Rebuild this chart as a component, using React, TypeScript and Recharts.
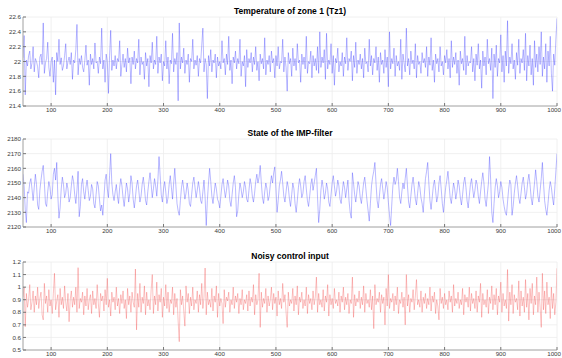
import { LineChart, Line, XAxis, YAxis, CartesianGrid } from 'recharts';

// samples start at x=50, one every 2 steps
const START = 50;
const STEP = 2;

const X_TICKS = [100, 200, 300, 400, 500, 600, 700, 800, 900, 1000];

const TZ1_TICKS = [21.4, 21.6, 21.8, 22, 22.2, 22.4, 22.6];
const IMP_TICKS = [2120, 2130, 2140, 2150, 2160, 2170, 2180];
const U_TICKS = [0.5, 0.6, 0.7, 0.8, 0.9, 1, 1.1, 1.2];

const TZ1 = [
  22.05, 22.35, 21.55, 22.02, 21.94, 22.08, 22.14, 21.9, 21.98, 22.2, 21.86, 22.04, 22.0, 21.93, 21.78, 22.06, 22.1, 21.96, 22.52, 21.84,
  21.98, 22.04, 22.26, 21.92, 21.8, 22.0, 22.06, 21.72, 22.02, 21.55, 22.12, 22.0, 22.3, 21.96, 22.05, 21.88, 21.94, 22.08, 22.24, 21.9,
  22.0, 22.06, 21.96, 22.12, 21.76, 22.02, 21.98, 22.16, 22.5, 21.82, 22.04, 21.96, 22.08, 21.92, 21.86, 22.02, 22.22, 21.95, 22.02, 21.68,
  22.1, 21.96, 22.04, 21.9, 22.25, 21.98, 22.0, 21.84, 22.06, 21.97, 22.45, 21.9, 22.02, 21.72, 22.1, 22.0, 21.57, 22.08, 22.42, 21.88,
  22.02, 21.94, 22.08, 21.9, 22.04, 22.0, 22.28, 21.8, 21.96, 22.1, 21.92, 22.04, 21.86, 22.18, 21.98, 22.05, 21.7, 22.06, 21.96, 22.14,
  21.9, 22.04, 21.98, 22.3, 21.82, 22.06, 21.96, 22.0, 21.76, 22.12, 21.94, 22.04, 21.66, 22.08, 21.98, 22.26, 21.9, 22.02, 21.96, 22.34,
  21.84, 22.06, 21.98, 22.1, 21.74, 22.0, 21.94, 22.28, 21.9, 22.06, 21.7, 22.02, 21.97, 22.38, 21.86, 22.04, 21.96, 22.12, 21.47, 22.52,
  21.9, 22.06, 21.98, 22.18, 21.84, 22.02, 21.96, 22.1, 21.72, 22.04, 22.0, 22.3, 21.9, 22.02, 21.95, 22.08, 21.8, 22.04, 21.98, 22.22,
  22.45, 21.86, 22.04, 21.96, 21.5, 22.08, 21.94, 22.16, 21.86, 22.02, 21.98, 22.1, 21.78, 22.06, 21.94, 22.0, 21.9, 22.28, 21.98, 22.04,
  21.82, 22.1, 21.96, 22.34, 21.88, 22.02, 21.7, 22.06, 21.98, 22.14, 21.9, 22.04, 21.97, 22.3, 21.8, 22.0, 21.94, 22.08, 21.66, 22.16,
  21.92, 22.04, 21.98, 22.12, 21.86, 22.06, 21.96, 22.2, 21.88, 22.0, 21.74, 22.1, 21.97, 22.04, 21.9, 22.32, 21.82, 22.02, 21.96, 22.08,
  21.86, 22.14, 21.98, 22.04, 21.78, 22.08, 21.94, 22.2, 21.9, 22.0, 21.98, 22.3, 21.86, 22.06, 21.92, 21.6, 22.12, 21.97, 22.04, 21.8,
  22.18, 21.94, 22.04, 21.88, 22.24, 21.98, 22.02, 21.72, 22.1, 21.96, 22.06, 21.9, 22.34, 21.84, 22.0, 21.97, 22.14, 21.78, 22.08, 21.94,
  22.04, 21.88, 22.2, 21.84, 22.4, 21.92, 22.06, 21.98, 22.16, 21.76, 22.38, 21.9, 22.02, 21.96, 22.24, 21.84, 22.08, 21.68, 22.04, 21.98,
  22.18, 21.86, 22.0, 21.94, 22.12, 21.8, 22.06, 21.97, 22.32, 21.88, 22.04, 22.0, 22.14, 21.74, 22.08, 21.92, 22.26, 21.84, 22.02, 21.96,
  22.1, 21.9, 22.04, 21.78, 22.18, 21.97, 22.0, 21.86, 22.3, 21.94, 22.08, 21.82, 22.04, 21.98, 22.2, 21.88, 22.06, 21.72, 22.12, 21.96,
  22.02, 21.84, 22.16, 21.92, 22.06, 21.66, 22.4, 21.9, 22.04, 21.97, 22.18, 21.8, 22.08, 21.94, 22.0, 21.88, 22.3, 21.76, 22.1, 21.98,
  21.86, 22.45, 21.94, 22.04, 21.82, 22.14, 21.97, 22.02, 21.9, 22.24, 21.78, 22.08, 21.96, 22.0, 21.84, 22.12, 21.98, 22.04, 21.92, 22.2,
  21.8, 22.06, 21.95, 22.32, 21.88, 22.02, 21.72, 22.1, 21.97, 22.04, 21.86, 22.2, 21.94, 22.0, 21.82, 22.08, 21.98, 22.16, 21.9, 22.04,
  21.78, 22.28, 21.92, 22.06, 21.96, 22.12, 21.84, 22.02, 21.68, 22.14, 21.97, 22.04, 21.88, 22.34, 21.82, 22.08, 21.94, 22.0, 21.98, 22.2,
  21.86, 22.04, 21.74, 22.1, 21.95, 22.24, 21.9, 22.02, 21.64, 22.14, 21.94, 22.06, 21.82, 22.3, 21.97, 22.04, 21.88, 22.18, 21.5, 22.1,
  21.92, 22.22, 21.8, 22.04, 21.98, 22.36, 21.86, 22.08, 21.72, 22.14, 21.94, 22.55, 21.84, 22.06, 21.97, 22.24, 21.9, 22.02, 21.76, 22.12,
  21.95, 22.3, 21.84, 22.04, 21.98, 22.16, 21.88, 22.38, 21.74, 22.08, 21.94, 22.22, 21.82, 22.04, 21.68, 22.28, 21.92, 22.1, 21.86, 22.2,
  21.96, 22.4, 21.8, 22.06, 21.9, 22.24, 21.72, 22.14, 21.94, 22.34, 21.84, 21.6, 22.1, 21.95, 22.3, 22.58,
];

const IMP = [
  2156, 2148, 2132, 2123, 2144, 2143, 2150, 2153, 2146, 2138, 2147, 2156, 2149, 2135, 2132, 2145, 2152, 2158, 2162, 2150,
  2136, 2134, 2144, 2151, 2147, 2139, 2142, 2156, 2160, 2152, 2164, 2141, 2126, 2133, 2146, 2154, 2149, 2140, 2143, 2150,
  2146, 2137, 2140, 2148, 2155, 2151, 2142, 2136, 2145, 2158, 2127, 2134, 2149, 2153, 2144, 2139, 2147, 2152, 2145, 2138,
  2141, 2149, 2146, 2136, 2133, 2142, 2151, 2148, 2139, 2131, 2135, 2128, 2140, 2152, 2156, 2146, 2140, 2155, 2170, 2150,
  2142, 2138, 2144, 2149, 2141, 2136, 2147, 2153, 2148, 2140, 2134, 2142, 2150, 2146, 2137, 2143, 2155, 2150, 2139, 2133,
  2140, 2148, 2152, 2145, 2137, 2141, 2149, 2154, 2147, 2138, 2135, 2144, 2151, 2157, 2149, 2140, 2146, 2153, 2148, 2141,
  2152, 2168, 2155, 2142, 2137, 2146, 2151, 2144, 2136, 2140, 2149, 2155, 2147, 2139, 2150, 2160, 2148, 2136, 2131, 2128,
  2138, 2147, 2152, 2146, 2139, 2143, 2150, 2145, 2136, 2134, 2142, 2150, 2154, 2147, 2140, 2145, 2151, 2146, 2138, 2136,
  2144, 2152, 2140, 2121, 2138, 2150, 2160, 2151, 2141, 2136, 2143, 2150, 2146, 2139, 2137, 2133, 2141, 2149, 2153, 2146,
  2140, 2145, 2152, 2148, 2138, 2134, 2142, 2150, 2155, 2147, 2127, 2131, 2142, 2150, 2146, 2140, 2144, 2151, 2147, 2139,
  2137, 2145, 2153, 2149, 2141, 2137, 2143, 2151, 2156, 2150, 2154, 2162, 2150, 2140, 2136, 2144, 2150, 2146, 2138, 2141,
  2149, 2155, 2150, 2157, 2161, 2146, 2130, 2138, 2148, 2152, 2158, 2150, 2141, 2137, 2144, 2151, 2147, 2139, 2134, 2142,
  2150, 2146, 2136, 2130, 2138, 2147, 2153, 2148, 2140, 2143, 2151, 2155, 2146, 2138, 2134, 2141, 2149, 2153, 2145, 2150,
  2155, 2160, 2140, 2123, 2132, 2145, 2152, 2147, 2139, 2143, 2150, 2146, 2137, 2134, 2142, 2150, 2155, 2148, 2141, 2145,
  2152, 2148, 2139, 2136, 2144, 2151, 2147, 2140, 2146, 2152, 2138, 2130, 2126, 2157, 2150, 2142, 2137, 2144, 2151, 2148,
  2140, 2136, 2143, 2150, 2154, 2146, 2138, 2131, 2124, 2136, 2148, 2154, 2158, 2164, 2150, 2138, 2133, 2141, 2149, 2153,
  2146, 2139, 2144, 2151, 2147, 2137, 2128, 2121, 2135, 2148, 2154, 2149, 2152, 2160, 2151, 2140, 2136, 2144, 2150, 2146,
  2153, 2160, 2148, 2137, 2133, 2141, 2149, 2154, 2147, 2139, 2135, 2143, 2151, 2147, 2140, 2136, 2130, 2142, 2153, 2158,
  2164, 2150, 2138, 2132, 2140, 2148, 2152, 2145, 2137, 2141, 2150, 2155, 2146, 2136, 2130, 2139, 2147, 2152, 2158, 2149,
  2140, 2136, 2143, 2150, 2146, 2139, 2144, 2152, 2148, 2140, 2135, 2142, 2150, 2154, 2147, 2138, 2133, 2141, 2149, 2153,
  2146, 2140, 2145, 2152, 2149, 2141, 2136, 2144, 2151, 2157, 2150, 2139, 2134, 2142, 2150, 2168, 2152, 2130, 2123, 2136,
  2147, 2153, 2148, 2140, 2144, 2151, 2147, 2139, 2134, 2130, 2128, 2137, 2146, 2152, 2149, 2128, 2134, 2143, 2150, 2155,
  2148, 2140, 2136, 2143, 2150, 2154, 2147, 2139, 2143, 2151, 2156, 2149, 2140, 2135, 2142, 2150, 2159, 2151, 2141, 2137,
  2145, 2153, 2164, 2150, 2138, 2132, 2128, 2136, 2145, 2151, 2147, 2140, 2135, 2146, 2158, 2170,
];

const U = [
  0.92, 1.0, 0.685, 0.95, 0.84, 0.9, 1.02, 0.82, 0.88, 0.97, 0.8, 0.93, 0.86, 1.0, 0.83, 0.91, 0.96, 0.78, 0.74, 1.03,
  0.87, 0.93, 0.8, 0.98, 0.85, 0.9, 0.79, 0.95, 1.11, 0.82, 0.89, 0.94, 0.76, 0.99, 0.86, 0.92, 0.83, 1.01, 0.88, 0.81,
  0.95, 0.725, 0.9, 0.97, 0.84, 0.92, 0.86, 1.0, 0.8, 1.155, 0.83, 0.91, 0.88, 0.96, 0.78, 0.93, 0.85, 0.99, 0.82, 0.9,
  0.94, 0.79, 0.97, 0.86, 0.91, 0.83, 1.02, 0.87, 0.76, 0.95, 0.89, 0.93, 0.81, 0.98, 0.86, 1.07, 0.84, 0.9, 0.77, 0.96,
  0.88, 0.92, 0.82, 1.0, 0.85, 0.91, 0.79, 0.94, 0.87, 0.97, 0.83, 0.9, 0.75, 0.99, 0.86, 0.93, 0.8, 0.96, 0.88, 0.84,
  1.144, 0.66, 0.95, 0.84, 1.03, 0.8, 0.92, 0.87, 1.01, 0.78, 0.96, 0.85, 0.9, 0.82, 0.98, 1.1, 0.79, 0.93, 0.86, 1.04,
  0.81, 0.94, 0.88, 0.99, 0.76, 0.92, 0.85, 1.02, 0.83, 0.96, 0.8, 0.9, 0.87, 1.0, 0.78, 0.95, 0.84, 0.91, 0.73, 0.566,
  0.98, 0.86, 0.93, 0.81, 0.69, 1.01, 0.88, 0.95, 0.79, 0.92, 0.85, 1.0, 0.82, 0.9, 0.87, 0.97, 0.8, 0.94, 0.86, 1.03,
  0.83, 0.92, 1.152, 0.78, 0.96, 0.86, 0.9, 0.84, 0.99, 0.81, 0.93, 0.88, 1.01, 0.76, 0.95, 0.85, 0.91, 0.87, 0.71, 0.98,
  0.84, 0.92, 0.89, 0.96, 0.8, 0.9, 0.86, 1.0, 0.83, 0.93, 0.88, 0.95, 0.79, 0.91, 0.86, 0.98, 0.82, 0.9, 0.87, 0.94,
  0.81, 0.97, 0.85, 0.92, 0.88, 1.02, 0.78, 0.94, 0.86, 0.9, 1.11, 0.68, 0.96, 0.84, 0.91, 0.87, 0.99, 0.8, 0.93, 0.85,
  0.9, 1.0, 0.82, 0.95, 0.87, 0.92, 0.77, 0.97, 0.86, 0.91, 0.83, 1.03, 0.88, 0.94, 0.8, 0.68, 0.96, 0.85, 0.9, 0.87,
  0.99, 0.81, 0.93, 0.86, 1.01, 0.78, 0.92, 0.88, 0.96, 0.83, 0.9, 0.85, 1.0, 0.79, 0.94, 0.87, 0.91, 0.82, 0.97, 0.86,
  0.92, 1.08, 0.8, 0.95, 0.86, 0.9, 0.84, 0.98, 0.81, 0.93, 0.88, 1.02, 0.77, 0.94, 0.86, 0.91, 0.83, 0.99, 0.87, 0.9,
  0.85, 0.96, 0.8, 0.93, 0.88, 1.0, 0.82, 0.92, 0.86, 0.95, 0.79, 0.9, 0.87, 1.08, 0.76, 0.94, 0.85, 0.91, 0.88, 0.97,
  0.83, 0.92, 0.86, 1.01, 0.8, 0.95, 0.87, 0.9, 0.84, 0.98, 0.82, 0.93, 0.67, 1.02, 0.86, 0.91, 0.88, 0.96, 0.8, 0.94,
  0.87, 0.92, 0.7, 0.99, 0.85, 1.1, 0.83, 0.91, 0.88, 0.95, 0.81, 0.93, 0.86, 1.0, 0.79, 0.9, 0.87, 0.96, 0.84, 0.92,
  0.7, 1.1, 0.85, 0.94, 0.8, 0.91, 0.88, 0.98, 0.82, 0.93, 1.06, 0.86, 0.9, 0.84, 0.97, 0.8, 0.92, 0.87, 0.95, 0.83,
  0.91, 0.86, 1.0, 0.81, 0.93, 0.88, 0.96, 0.79, 0.9, 0.85, 0.74, 0.99, 0.87, 0.92, 0.83, 0.95, 0.86, 0.9, 0.82, 0.97,
  0.88, 0.93, 0.8, 1.02, 0.85, 0.91, 0.87, 0.96, 0.83, 0.9, 0.86, 0.99, 0.78, 0.94, 0.88, 0.92, 0.84, 1.0, 0.81, 0.95,
  0.87, 0.91, 0.83, 0.97, 0.8, 0.93, 0.88, 1.03, 0.76, 0.95, 0.86, 0.9, 0.84, 0.98, 0.79, 0.92, 0.87, 1.01, 0.82, 0.94,
  0.86, 0.99, 0.78, 0.93, 0.88, 1.04, 0.8, 0.95, 0.85, 0.9, 0.83, 1.14, 0.73, 0.96, 0.86, 1.02, 0.79, 0.94, 0.88, 0.91,
  0.82, 1.05, 0.77, 0.97, 0.85, 0.92, 0.8, 1.06, 0.84, 0.95, 0.74, 0.99, 0.87, 1.03, 0.78, 0.93, 0.86, 1.08, 0.8, 0.96,
  0.84, 0.68, 1.11, 0.82, 0.97, 0.79, 1.04, 0.86, 0.92, 0.75, 1.0, 0.83, 0.95, 0.78, 0.88, 1.15,
];

const FONT = '"Liberation Sans", Arial, Helvetica, sans-serif';
const tickStyle = { fontSize: 6.2, fill: '#3a3a3a', fontFamily: FONT };
const FRAME = '#a8a8a8';
const CHART_W = 562;

function toRows(values: number[]) {
  return values.map((v, i) => ({ x: START + i * STEP, v }));
}

// last x label would hang off the right edge, so pin it to the edge
function XTick(props: any) {
  const { x, y, payload } = props;
  const last = payload.value === X_TICKS[X_TICKS.length - 1];
  return (
    <text
      x={last ? CHART_W - 1 : x} y={y} dy="0.71em"
      textAnchor={last ? 'end' : 'middle'}
      fontSize={tickStyle.fontSize} fill={tickStyle.fill} fontFamily={FONT}
    >
      {payload.value}
    </text>
  );
}

interface PanelProps {
  title: string;
  values: number[];
  yTicks: number[];
  color: string;
  opacity: number;
  top: number;
  height: number;
  marginTop: number;
  axisHeight: number;
}

function Panel({ title, values, yTicks, color, opacity, top, height, marginTop, axisHeight }: PanelProps) {
  const data = toRows(values);
  return (
    <>
      <div
        style={{
          position: 'absolute', left: 23, width: 534, top: top + marginTop - 11,
          textAlign: 'center', fontFamily: FONT, fontWeight: 'bold', fontSize: 8.5,
          lineHeight: '10px', color: '#000',
        }}
      >
        {title}
      </div>
      <div style={{ position: 'absolute', left: 0, top }}>
        <LineChart width={CHART_W} height={height} data={data} margin={{ top: marginTop, right: 5, left: 0, bottom: 0 }}>
          <CartesianGrid stroke="#ececec" strokeWidth={0.8} />
          <XAxis
            dataKey="x" type="number" domain={[50, 1000]} ticks={X_TICKS} allowDataOverflow
            height={axisHeight} tick={<XTick />} tickSize={-3} tickMargin={5}
            axisLine={{ stroke: FRAME }} tickLine={{ stroke: '#777' }} interval={0}
          />
          <XAxis
            xAxisId="top" orientation="top" dataKey="x" type="number" domain={[50, 1000]}
            height={0} tick={false} tickLine={false} axisLine={{ stroke: FRAME }}
          />
          <YAxis
            type="number" domain={[yTicks[0], yTicks[yTicks.length - 1]]} ticks={yTicks} allowDataOverflow
            width={23} tick={tickStyle} tickSize={-3} tickMargin={5}
            axisLine={{ stroke: FRAME }} tickLine={{ stroke: '#777' }} interval={0}
          />
          <YAxis
            yAxisId="r" orientation="right" width={0} tick={false} tickLine={false}
            axisLine={{ stroke: FRAME }}
          />
          <Line
            dataKey="v" stroke={color} strokeOpacity={opacity} strokeWidth={0.6}
            dot={false} isAnimationActive={false}
          />
        </LineChart>
      </div>
    </>
  );
}

export default function App() {
  return (
    <div style={{ position: 'absolute', left: 0, top: 0, width: CHART_W, height: 358, background: '#fff', overflow: 'hidden' }}>
      <Panel title="Temperature of zone 1 (Tz1)" values={TZ1} yTicks={TZ1_TICKS} color="#2a2aff" opacity={0.55}
        top={0} height={118} marginTop={17} axisHeight={12} />
      <Panel title="State of the IMP-filter" values={IMP} yTicks={IMP_TICKS} color="#2a2aff" opacity={0.55}
        top={118} height={121} marginTop={21} axisHeight={12} />
      <Panel title="Noisy control input" values={U} yTicks={U_TICKS} color="#f03a3a" opacity={0.5}
        top={239} height={119} marginTop={23} axisHeight={8} />
    </div>
  );
}
